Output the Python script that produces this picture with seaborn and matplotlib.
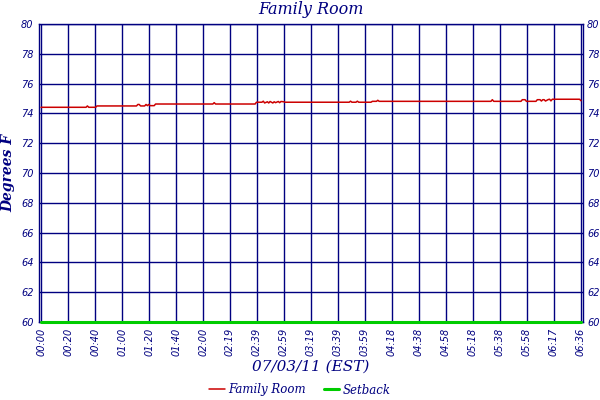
import matplotlib
matplotlib.use("Agg")
import matplotlib.pyplot as plt
import seaborn as sns
import pandas as pd

# ---- data (minutes since 00:00, degrees F) ----
minutes = [0, 33, 34, 35, 40, 41, 70, 71, 72, 73, 76, 77, 78, 79, 80, 83, 84, 86,
           126, 127, 128, 157, 158, 162, 163, 164, 166, 167, 168, 170, 171, 172,
           174, 175, 176, 178, 179, 226, 227, 228, 231, 232, 233, 242, 243, 246,
           247, 248, 330, 331, 332, 352, 353, 355, 356, 363, 364, 366, 367, 368,
           369, 370, 372, 373, 374, 375, 395, 396]
family_room = [74.41, 74.41, 74.50, 74.41, 74.41, 74.50, 74.50, 74.60, 74.60, 74.50,
               74.50, 74.60, 74.52, 74.60, 74.52, 74.52, 74.63, 74.63,
               74.63, 74.72, 74.63, 74.63, 74.75, 74.75, 74.82, 74.70, 74.78, 74.70,
               74.80, 74.70, 74.78, 74.72, 74.80, 74.72, 74.80, 74.78, 74.75,
               74.75, 74.82, 74.75, 74.75, 74.82, 74.75, 74.75, 74.81, 74.81,
               74.88, 74.81, 74.81, 74.92, 74.81, 74.81, 74.92, 74.92, 74.81,
               74.81, 74.92, 74.92, 74.83, 74.92, 74.92, 74.83, 74.93, 74.95,
               74.84, 74.95, 74.95, 74.85]
setback_minutes = [0, 396]
setback = [60.0, 60.0]

tick_minutes = [0, 19.8, 39.6, 59.4, 79.2, 99.0, 118.8, 138.6, 158.4, 178.2, 198.0,
                217.8, 237.6, 257.4, 277.2, 297.0, 316.8, 336.6, 356.4, 376.2, 396.0]
tick_labels = ["00:00", "00:20", "00:40", "01:00", "01:20", "01:40", "02:00", "02:19",
               "02:39", "02:59", "03:19", "03:39", "03:59", "04:18", "04:38", "04:58",
               "05:18", "05:38", "05:58", "06:17", "06:36"]
y_ticks = [60, 62, 64, 66, 68, 70, 72, 74, 76, 78, 80]

NAVY = "#000080"
RED = "#CC0000"
GREEN = "#00CC00"

sns.set_theme(style="white")
plt.rcParams["font.family"] = ["DejaVu Sans"]

df = pd.DataFrame({"minute": minutes, "temp": family_room})
df_sb = pd.DataFrame({"minute": setback_minutes, "temp": setback})

fig = plt.figure(figsize=(6, 4), dpi=100)
ax = fig.add_axes([39 / 600, 1 - 322 / 400, 544 / 600, 298 / 400])

ax.set_xlim(-1.5, 397.5)
ax.set_ylim(60, 80)
ax.set_xticks(tick_minutes)
ax.set_xticklabels(tick_labels, rotation=90, fontsize=7, color=NAVY, style="italic")
ax.set_yticks(y_ticks)
ax.set_yticklabels([str(v) for v in y_ticks], fontsize=7, color=NAVY, style="italic")
ax.tick_params(axis="both", length=0, pad=4)

ax.grid(True, color=NAVY, linewidth=1.0)
ax.set_axisbelow(True)
for s in ax.spines.values():
    s.set_color(NAVY)
    s.set_linewidth(1.0)

sns.lineplot(data=df, x="minute", y="temp", ax=ax, color=RED, linewidth=1.1,
             label="Family Room", zorder=3, legend=False)
sns.lineplot(data=df_sb, x="minute", y="temp", ax=ax, color=GREEN, linewidth=2.2,
             label="Setback", zorder=4, clip_on=False, legend=False)

ax2 = ax.twinx()
ax2.set_ylim(60, 80)
ax2.set_yticks(y_ticks)
ax2.set_yticklabels([str(v) for v in y_ticks], fontsize=7, color=NAVY, style="italic")
ax2.tick_params(axis="y", length=0, pad=3)
ax2.grid(False)
for s in ax2.spines.values():
    s.set_visible(False)

serif = {"family": "DejaVu Serif", "style": "italic", "color": NAVY}
ax.set_title("Family Room", fontsize=11.5, pad=7, **serif)
ax.set_xlabel("07/03/11 (EST)", fontsize=11, labelpad=3, **serif)
ax.set_ylabel("Degrees F", fontsize=10, labelpad=4, fontweight="bold", **serif)

handles = ax.get_lines()[:2]
leg = fig.legend(handles, ["Family Room", "Setback"], loc="center",
                 bbox_to_anchor=(0.5, 1 - 390 / 400), ncol=2, frameon=False,
                 handlelength=1.3, handletextpad=0.3, columnspacing=1.5,
                 borderpad=0, borderaxespad=0,
                 prop={"family": "DejaVu Serif", "style": "italic", "size": 8.5})
for t in leg.get_texts():
    t.set_color(NAVY)

fig.savefig("out.png", dpi=100, facecolor="white")
